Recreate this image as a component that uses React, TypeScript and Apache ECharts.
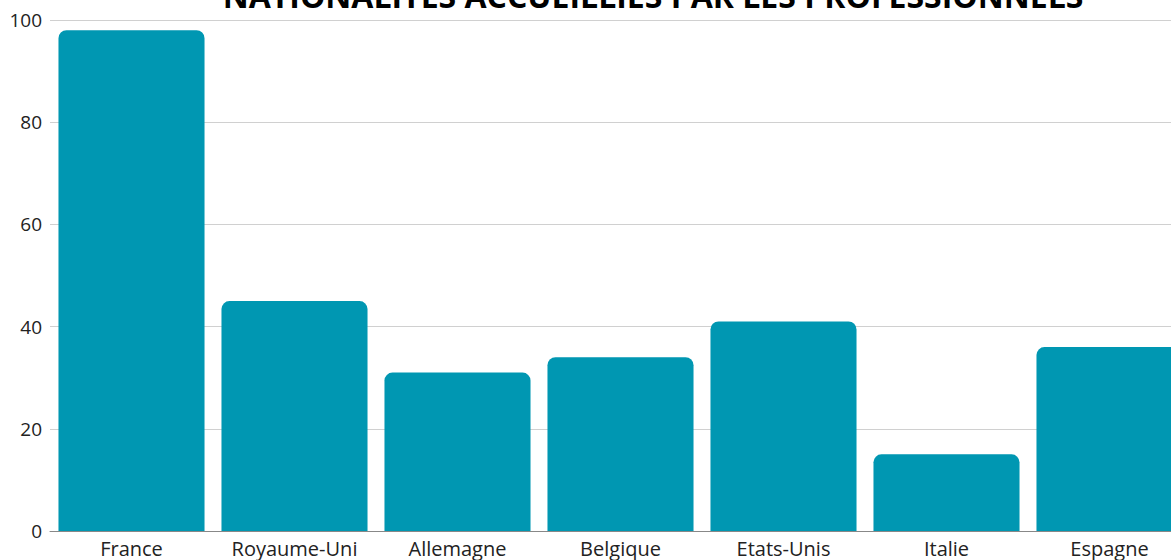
import React, { useEffect, useRef } from "react";
import * as echarts from "echarts";

const categories = ["France", "Royaume-Uni", "Allemagne", "Belgique", "Etats-Unis", "Italie", "Espagne"];
const values = [98, 45, 31, 34, 41, 15, 36];
const titleText = "NATIONALITES ACCUEILLIES PAR LES PROFESSIONNELS";

export default function App() {
  const ref = useRef<HTMLDivElement>(null);
  useEffect(() => {
    const chart = echarts.init(ref.current!, undefined, { renderer: "svg" });
    chart.setOption({
      animation: false,
      title: {
        text: titleText,
        left: 648,
        textAlign: "center",
        top: -26,
        textStyle: { fontFamily: "Open Sans", fontWeight: "bold", fontSize: 32, color: "#000" },
      },
      grid: { left: 50, right: 9, top: 20, bottom: 29, containLabel: false },
      xAxis: {
        type: "category",
        data: categories,
        axisTick: { show: false },
        axisLine: { lineStyle: { color: "#888", width: 1 } },
        axisLabel: { fontFamily: "Open Sans", fontSize: 20, color: "#222", margin: 7, interval: 0 },
      },
      yAxis: {
        type: "value",
        min: 0,
        max: 100,
        interval: 20,
        axisLabel: { fontFamily: "Open Sans", fontSize: 19, color: "#222", margin: 8 },
        splitLine: { lineStyle: { color: "#d0d0d0", width: 1 } },
        axisLine: { show: false },
      },
      series: [
        {
          type: "bar",
          data: values,
          barCategoryGap: "10.4%",
          itemStyle: { color: "#0097B2", borderRadius: [8, 8, 0, 0] },
        },
      ],
    });
    return () => chart.dispose();
  }, []);
  return (
    <div style={{ width: 1171, height: 560, position: "absolute", left: 0, top: 0, overflow: "hidden" }}>
      <div ref={ref} style={{ width: 1200, height: 560 }} />
    </div>
  );
}
